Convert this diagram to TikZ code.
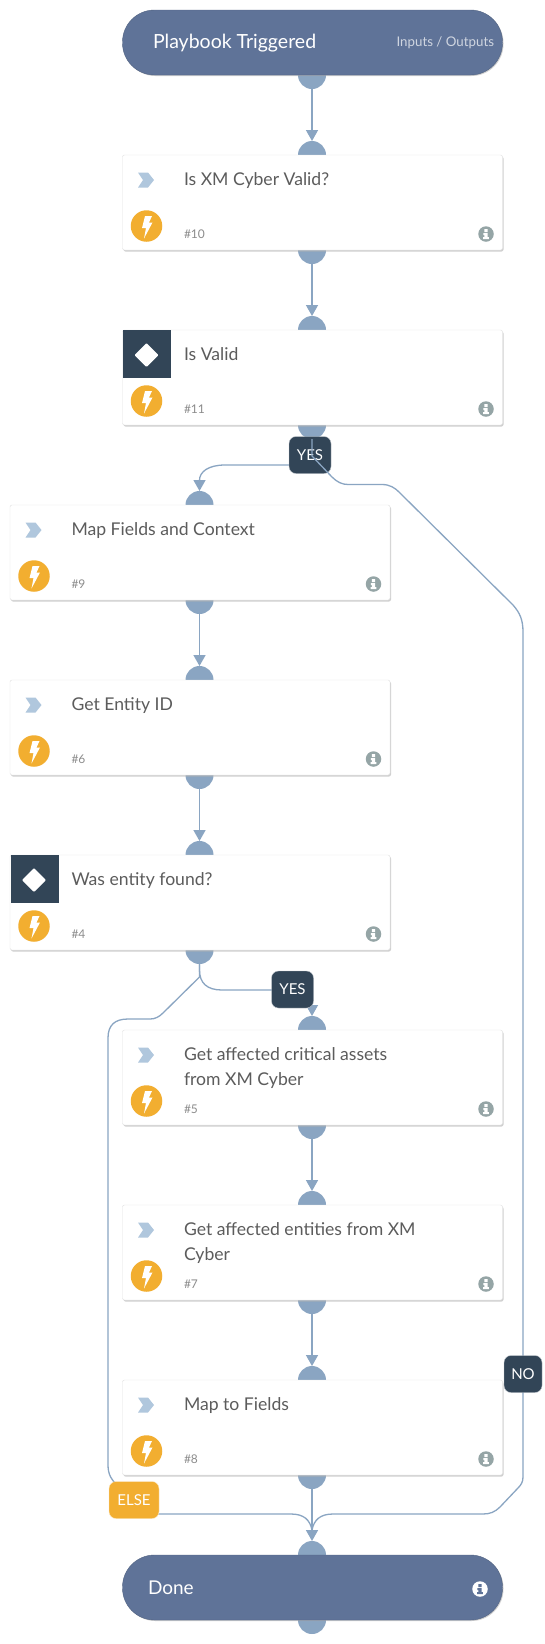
\documentclass[tikz,border=0pt]{standalone}
\usepackage{fontspec}
\setmainfont{Lato}
\usetikzlibrary{arrows.meta, shapes.geometric, shadows}
\definecolor{pillblue}{HTML}{5F7398}
\definecolor{portblue}{HTML}{8AA5C2}
\definecolor{tiledark}{HTML}{324557}
\definecolor{boltorange}{HTML}{F2AE30}
\definecolor{chevblue}{HTML}{B0C7DD}
\definecolor{infogray}{HTML}{95A5A6}
\definecolor{titlegray}{HTML}{5C5C5C}

\begin{document}
\begin{tikzpicture}[x=1pt, y=-1pt,
    every node/.style={inner sep=0pt, outer sep=0pt},
    portdot/.style={circle, fill=portblue, minimum size=28pt},
    pillbox/.style={rounded corners=32pt, fill=pillblue, draw=pillblue!85!black, minimum width=380pt, minimum height=65pt,
        drop shadow={shadow xshift=1pt, shadow yshift=-1pt, fill=black!30, opacity=0.6}},
    taskbox/.style={rounded corners=2pt, fill=white, draw=black!12, minimum width=380pt, minimum height=95pt,
        drop shadow={shadow xshift=1pt, shadow yshift=-1.5pt, fill=black!30, opacity=0.6}},
    chevmark/.style={minimum width=16pt, minimum height=16pt,
        path picture={\fill [chevblue, shift={(path picture bounding box.center)}]
            (-8,-7.5) -- (2,-7.5) -- (8,0) -- (2,7.5) -- (-8,7.5) -- (-3,0) -- cycle;}},
    condtile/.style={fill=tiledark, minimum size=48pt},
    condgem/.style={diamond, fill=white, minimum size=24pt, rounded corners=1pt},
    boltdisc/.style={circle, fill=boltorange, minimum size=31.5pt,
        path picture={\fill [white, shift={(path picture bounding box.center)}]
            (-1.5,-10) -- (5.5,-10) -- (2.5,-3.5) -- (6,-3.5) -- (-2.5,12.5) -- (-0.5,2) -- (-4.5,2) -- cycle;}},
    infodot/.style={circle, fill=#1, minimum size=15.5pt,
        path picture={\fill [white, shift={(path picture bounding box.center)}]
            (-1.6,-5) rectangle (1.6,-2)
            (-2.6,-1) -- (1.6,-1) -- (1.6,3.2) -- (2.8,3.2) -- (2.8,5.2) -- (-2.8,5.2) -- (-2.8,3.2) -- (-1.6,3.2) -- (-1.6,1) -- (-2.6,1) -- cycle;}},
    titletext/.style={anchor=base west, align=left, text=titlegray, font=\fontsize{17.6}{25}\selectfont},
    numtext/.style={anchor=west, text=black!45, font=\fontsize{12}{14}\selectfont},
    tagbox/.style={rounded corners=7pt, fill=#1, draw=white!70!#1, minimum height=37pt, text=white, font=\fontsize{15}{18}\selectfont},
    flowline/.style={draw=portblue, line width=1.3pt},
    flowarrow/.style={draw=portblue, line width=1.5pt, -{Triangle[length=11pt, width=12pt]}}
]
    \fill [white] (0,0) rectangle (544,1644);
    \useasboundingbox (0,0) rectangle (544,1644);

    % Ports (under the boxes)
    \node (startOut) [portdot] at (312,75) {};
    \node (xmcheckIn) [portdot] at (312,155) {};
    \node (xmcheckOut) [portdot] at (312,250) {};
    \node (validIn) [portdot] at (312,330) {};
    \node (validOut) [portdot] at (312,425) {};
    \node (contextIn) [portdot] at (199.5,505) {};
    \node (contextOut) [portdot] at (199.5,600) {};
    \node (entityIn) [portdot] at (199.5,680) {};
    \node (entityOut) [portdot] at (199.5,775) {};
    \node (foundIn) [portdot] at (199.5,855) {};
    \node (foundOut) [portdot] at (199.5,950) {};
    \node (assetsIn) [portdot] at (312,1030) {};
    \node (assetsOut) [portdot] at (312,1125) {};
    \node (affectedIn) [portdot] at (312,1205) {};
    \node (affectedOut) [portdot] at (312,1300) {};
    \node (fieldsIn) [portdot] at (312,1380) {};
    \node (fieldsOut) [portdot] at (312,1475) {};
    \node (doneIn) [portdot] at (312,1555) {};
    \node (doneOut) [portdot] at (312,1620) {};
    \coordinate (doneJoin) at (312,1530);

    % Start and end
    \node (start) [pillbox] at (312.5,42.5) {};
    \node (startTitle) [anchor=west, text=white, font=\fontsize{19.5}{22}\selectfont] at (153,43) {Playbook Triggered};
    \node (startLink) [anchor=east, text=pillblue!30!white, font=\fontsize{13.3}{16}\selectfont] at (494,43) {Inputs / Outputs};
    \node (done) [pillbox] at (312.5,1587.5) {};
    \node (doneTitle) [anchor=west, text=white, font=\fontsize{19}{22}\selectfont] at (148,1588) {Done};
    \node (doneInfo) [infodot=white, path picture={\fill [pillblue, shift={(path picture bounding box.center)}]
            (-1.6,-5) rectangle (1.6,-2)
            (-2.6,-1) -- (1.6,-1) -- (1.6,3.2) -- (2.8,3.2) -- (2.8,5.2) -- (-2.8,5.2) -- (-2.8,3.2) -- (-1.6,3.2) -- (-1.6,1) -- (-2.6,1) -- cycle;}] at (480,1589) {};

    % Tasks
    \node (xmcheck) [taskbox] at (312.5,202.5) {};
    \node (xmcheckMark) [chevmark] at (146,180) {};
    \node (xmcheckBolt) [boltdisc] at (146.5,226) {};
    \node (xmcheckTitle) [titletext] at (184,185) {Is XM Cyber Valid?};
    \node (xmcheckNum) [numtext] at (184,234) {\#10};
    \node (xmcheckInfo) [infodot=infogray] at (486,234) {};

    \node (valid) [taskbox] at (312.5,377.5) {};
    \node (validTile) [condtile] at (147,354) {};
    \node (validGem) [condgem] at (146.5,355) {};
    \node (validBolt) [boltdisc] at (146.5,401) {};
    \node (validTitle) [titletext] at (184,360) {Is Valid};
    \node (validNum) [numtext] at (184,409) {\#11};
    \node (validInfo) [infodot=infogray] at (486,409) {};

    \node (context) [taskbox] at (200,552.5) {};
    \node (contextMark) [chevmark] at (33.5,530) {};
    \node (contextBolt) [boltdisc] at (34,576) {};
    \node (contextTitle) [titletext] at (71.5,535) {Map Fields and Context};
    \node (contextNum) [numtext] at (71.5,584) {\#9};
    \node (contextInfo) [infodot=infogray] at (373.5,584) {};

    \node (entity) [taskbox] at (200,727.5) {};
    \node (entityMark) [chevmark] at (33.5,705) {};
    \node (entityBolt) [boltdisc] at (34,751) {};
    \node (entityTitle) [titletext] at (71.5,710) {Get Entity ID};
    \node (entityNum) [numtext] at (71.5,759) {\#6};
    \node (entityInfo) [infodot=infogray] at (373.5,759) {};

    \node (found) [taskbox] at (200,902.5) {};
    \node (foundTile) [condtile] at (34.5,879) {};
    \node (foundGem) [condgem] at (34,880) {};
    \node (foundBolt) [boltdisc] at (34,926) {};
    \node (foundTitle) [titletext] at (71.5,885) {Was entity found?};
    \node (foundNum) [numtext] at (71.5,934) {\#4};
    \node (foundInfo) [infodot=infogray] at (373.5,934) {};

    \node (assets) [taskbox] at (312.5,1077.5) {};
    \node (assetsMark) [chevmark] at (146,1055) {};
    \node (assetsBolt) [boltdisc] at (146.5,1101) {};
    \node (assetsTitle) [titletext] at (184,1085) {Get affected critical assets\\from XM Cyber};
    \node (assetsNum) [numtext] at (184,1109) {\#5};
    \node (assetsInfo) [infodot=infogray] at (486,1109) {};

    \node (affected) [taskbox] at (312.5,1252.5) {};
    \node (affectedMark) [chevmark] at (146,1230) {};
    \node (affectedBolt) [boltdisc] at (146.5,1276) {};
    \node (affectedTitle) [titletext] at (184,1260) {Get affected entities from XM\\Cyber};
    \node (affectedNum) [numtext] at (184,1284) {\#7};
    \node (affectedInfo) [infodot=infogray] at (486,1284) {};

    \node (fields) [taskbox] at (312.5,1427.5) {};
    \node (fieldsMark) [chevmark] at (146,1405) {};
    \node (fieldsBolt) [boltdisc] at (146.5,1451) {};
    \node (fieldsTitle) [titletext] at (184,1410) {Map to Fields};
    \node (fieldsNum) [numtext] at (184,1459) {\#8};
    \node (fieldsInfo) [infodot=infogray] at (486,1459) {};

    % Connections
    \draw [flowarrow] (startOut) -- (xmcheckIn);
    \draw [flowarrow] (xmcheckOut) -- (validIn);
    \draw [flowarrow] (contextOut) -- (entityIn);
    \draw [flowarrow] (entityOut) -- (foundIn);
    \draw [flowarrow] (assetsOut) -- (affectedIn);
    \draw [flowarrow] (affectedOut) -- (fieldsIn);
    \draw [flowarrow] (fieldsOut) -- (doneIn);

    \draw [flowarrow, line width=1.3pt] (validOut.south) -- (312,445) .. controls (312,460) and (305,465) .. (295,465)
                  -- (225,465) .. controls (208,465) and (199.5,472) .. (contextIn);
    \node (validYes) [tagbox=tiledark, minimum width=42pt] at (310,455) {YES};
    \draw [flowline] (validOut.south) -- (312,456) -- (332,477) .. controls (337,482) and (342,484.5) .. (348,484.5)
                  -- (382,484.5) .. controls (390,484.5) and (395,488) .. (399,492)
                  -- (513,605) .. controls (520,613) and (523,620) .. (523,632)
                  -- (523,1477) .. controls (523,1482) and (521,1485) .. (518,1488)
                  -- (500,1507) .. controls (495,1512) and (490,1514) .. (483,1514)
                  -- (333,1514) .. controls (320,1514) and (314,1520) .. (doneJoin);
    \node (validNo) [tagbox=tiledark, minimum width=38pt] at (523,1374) {NO};

    \draw [flowline] (foundOut.south) -- (199.5,977) -- (163,1013) .. controls (159,1017) and (155,1019) .. (150,1019)
                  -- (128,1019) .. controls (115,1019) and (108,1025) .. (108,1038)
                  -- (108,1465) .. controls (108,1475) and (112,1480) .. (116,1484)
                  -- (130,1500) .. controls (140,1510) and (145,1514) .. (155,1514)
                  -- (291,1514) .. controls (304,1514) and (310,1520) .. (doneJoin);
    \node (foundElse) [tagbox=boltorange, minimum width=50pt] at (134,1500) {ELSE};
    \draw [flowarrow, line width=1.3pt] (foundOut.south) -- (199.5,970) .. controls (199.5,983) and (207,990) .. (222,990)
                  -- (295,990) .. controls (306,990) and (312,994) .. (assetsIn);
    \node (foundYes) [tagbox=tiledark, minimum width=42pt] at (292.5,989.5) {YES};
\end{tikzpicture}
\end{document}
